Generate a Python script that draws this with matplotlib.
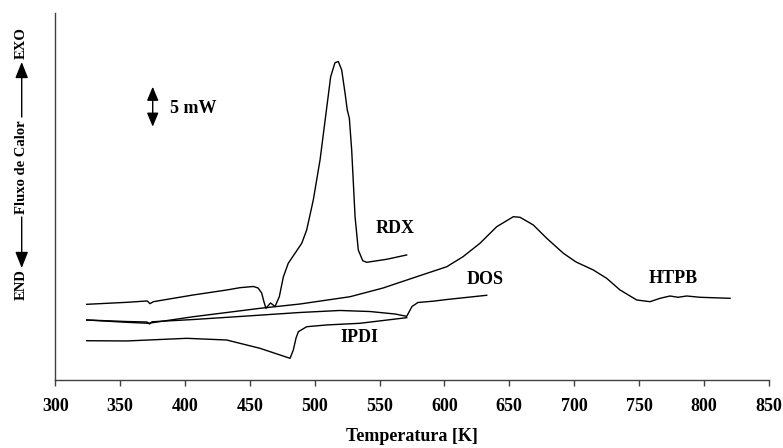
import matplotlib
matplotlib.use('Agg')
import matplotlib.pyplot as plt
from matplotlib.patches import FancyArrowPatch

# curvas DSC: temperatura [K] e fluxo de calor [mW] (linha de base arbitraria)
rdx_t = [324.2, 355.1, 370.9, 373.0, 375.6, 406.4, 432.1, 442.4, 452.7, 456.3, 459.1,
         460.9, 462.4, 465.9, 469.4, 472.7, 475.8, 479.6, 484.8, 490.0, 493.8, 498.9,
         504.1, 508.7, 512.3, 515.6, 518.2, 520.8, 523.4, 525.1, 526.7, 528.5, 531.1,
         533.6, 537.0, 540.1, 555.5, 570.9]
rdx_q = [9.46, 9.71, 9.88, 9.54, 9.79, 10.63, 11.25, 11.54, 11.69, 11.5, 10.88,
         9.75, 8.96, 9.63, 9.19, 10.41, 12.88, 14.59, 15.84, 17.09, 18.75, 22.5,
         27.5, 33.34, 37.91, 39.66, 39.81, 38.75, 35.84, 33.75, 32.71, 28.75, 20.41,
         16.25, 14.91, 14.71, 15.09, 15.63]

htpb_t = [324.2, 355.1, 371.7, 406.4, 457.8, 488.7, 527.2, 552.7, 578.6, 601.8, 614.3,
          627.4, 640.3, 653.1, 658.3, 668.5, 678.9, 691.7, 701.5, 714.8, 725.1, 735.4,
          748.3, 758.5, 766.2, 773.9, 780.1, 786.8, 797.1, 820.2]
htpb_q = [7.5, 7.21, 7.09, 7.91, 8.96, 9.5, 10.41, 11.5, 12.91, 14.16, 15.41,
          17.09, 19.16, 20.41, 20.34, 19.38, 17.71, 15.84, 14.75, 13.75, 12.71, 11.25,
          10.0, 9.79, 10.21, 10.5, 10.34, 10.5, 10.34, 10.21]

dos_t = [324.2, 355.1, 370.7, 372.6, 374.6, 406.4, 442.4, 488.7, 519.5, 542.6, 561.9,
         570.9, 572.7, 575.0, 579.6, 591.2, 601.8, 632.6]
dos_q = [7.5, 7.31, 7.25, 7.0, 7.28, 7.56, 7.94, 8.44, 8.69, 8.56, 8.25,
         7.96, 8.5, 9.19, 9.69, 9.85, 10.06, 10.59]

ipdi_t = [324.2, 355.1, 401.3, 432.1, 457.8, 473.2, 481.0, 483.5, 485.6, 487.4, 493.8,
          509.2, 534.9, 570.9]
ipdi_q = [4.91, 4.88, 5.21, 5.0, 3.96, 3.13, 2.71, 3.75, 5.25, 6.04, 6.66,
          6.88, 7.09, 7.79]

xticks = [300, 350, 400, 450, 500, 550, 600, 650, 700, 750, 800, 850]

plt.rcParams['font.family'] = ['Liberation Serif', 'DejaVu Serif']
plt.rcParams['font.weight'] = 'bold'

W, H = 783, 448
fig = plt.figure(figsize=(W / 100, H / 100), dpi=100)
ax = fig.add_axes([55.3 / W, 68 / H, 713.4 / W, 367 / H])

for t, q in [(rdx_t, rdx_q), (htpb_t, htpb_q), (dos_t, dos_q), (ipdi_t, ipdi_q)]:
    ax.plot(t, q, color='black', lw=1.0)

ax.set_xlim(300, 850)
ax.set_ylim(0, 367 / 8)
ax.set_xticks(xticks)
ax.set_yticks([])
for s in ['top', 'right']:
    ax.spines[s].set_visible(False)
for s in ['left', 'bottom']:
    ax.spines[s].set_color('#404040')
    ax.spines[s].set_linewidth(1.0)
ax.tick_params(axis='x', direction='out', length=4, width=1.0, color='#404040',
               labelsize=13, pad=9)
for lb in ax.get_xticklabels():
    lb.set_fontweight('bold')
ax.set_xlabel('Temperatura [K]', fontsize=13, fontweight='bold', labelpad=9)

# rotulos das curvas
kw = dict(fontsize=13, fontweight='bold', ha='center', va='center')
ax.text(561.9, 18.9, 'RDX', **kw)
ax.text(631.7, 12.6, 'DOS', **kw)
ax.text(776.2, 12.7, 'HTPB', **kw)
ax.text(534.2, 5.3, 'IPDI', **kw)

# escala 5 mW
ax.annotate('', xy=(375.1, 36.66), xytext=(375.1, 31.66),
            arrowprops=dict(arrowstyle='<|-|>,head_length=0.6,head_width=0.25',
                            color='black', lw=1.0, shrinkA=0, shrinkB=0,
                            mutation_scale=14))
ax.text(388.4, 33.9, '5 mW', fontsize=13, fontweight='bold', ha='left', va='center')

# eixo y: END <-- Fluxo de Calor --> EXO
xl = 21.7 / W
ykw = dict(rotation=90, ha='center', va='center', fontsize=10.5, fontweight='bold')
fig.text(xl, 1 - 43 / H, 'EXO', **ykw)
fig.text(xl, 1 - 167 / H, 'Fluxo de Calor', **ykw)
fig.text(xl, 1 - 285 / H, 'END', **ykw)
style = '-|>,head_length=0.7,head_width=0.28'
fig.add_artist(FancyArrowPatch((xl, 1 - 117 / H), (xl, 1 - 62 / H), transform=fig.transFigure,
                               arrowstyle=style, mutation_scale=14, color='black', lw=1.0,
                               shrinkA=0, shrinkB=0))
fig.add_artist(FancyArrowPatch((xl, 1 - 217 / H), (xl, 1 - 268 / H), transform=fig.transFigure,
                               arrowstyle=style, mutation_scale=14, color='black', lw=1.0,
                               shrinkA=0, shrinkB=0))

fig.savefig('out.png', dpi=100)
